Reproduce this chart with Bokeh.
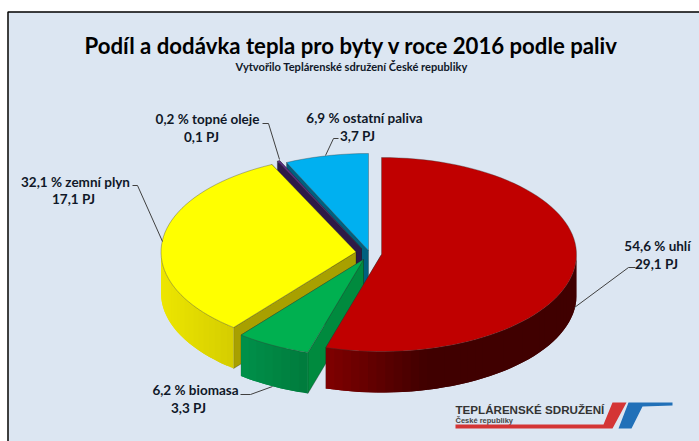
import math
from bokeh.plotting import figure
from bokeh.models import Range1d
from bokeh.core.properties import value
from bokeh.embed import file_html
from bokeh.resources import INLINE

# --- data ---
names = ["uhlí", "biomasa", "zemní plyn", "topné oleje", "ostatní paliva"]
shares = [54.6, 6.2, 32.1, 0.2, 6.9]
pj = [29.1, 3.3, 17.1, 0.1, 3.7]
title = "Podíl a dodávka tepla pro byty v roce 2016 podle paliv"
subtitle = "Vytvořilo Teplárenské sdružení České republiky"

# --- style / layout ---
top_colors = ["#C00000", "#00B050", "#FFFF00", "#5B2C83", "#00B0F0"]
wall_colors = ["#7A0000", "#008A3E", "#A8A000", "#2E1A47", "#00607F"]
side_left = ["#800000", "#00914A", "#EDE600", "#2E1A47", "#00607F"]
side_right = ["#400000", "#007A3C", "#C8C000", "#2E1A47", "#00607F"]
apex = [(381, 254), (363, 259), (355.5, 251.5), (361, 248), (368, 250)]
RX, RY, DEPTH = 195, 97, 41
label_pos = [(657, 245, 656, 263), (195, 389, 188, 407), (75, 181, 73, 198),
             (207, 118, 201, 136), (364, 117, 357, 135)]
leaders = [[(574, 307), (628, 267), (635, 267)],
           [(240, 394), (250, 394), (272, 386)],
           [(132, 185), (137, 185), (162, 241)],
           [(262, 123), (268, 123), (279, 159)],
           [(325, 155), (333, 138), (338, 138)]]
BG = "#DCE6F2"
FONT = value("Lato")


def mix(c1, c2, f):
    a = [int(c1[i:i + 2], 16) for i in (1, 3, 5)]
    b = [int(c2[i:i + 2], 16) for i in (1, 3, 5)]
    return "#%02X%02X%02X" % tuple(round(x + (y - x) * f) for x, y in zip(a, b))


def pt(c, t):
    r = math.radians(t)
    return c[0] + RX * math.sin(r), c[1] - RY * math.cos(r)


p = figure(width=699, height=441, output_backend="svg", toolbar_location=None,
           x_range=Range1d(0, 699), y_range=Range1d(441, 0), min_border=0,
           outline_line_color=None, background_fill_color="white", border_fill_color="white")
p.axis.visible = False
p.grid.visible = False

# chart area with its black border on the top and left
p.quad(left=[8], right=[699], top=[11.5], bottom=[441], fill_color=BG, line_color=None)
p.line([7.5, 7.5, 699], [441, 11.5, 11.5], line_color="black", line_width=1.5)

# wedge angles from the shares
edges = [0.0]
for s in shares:
    edges.append(edges[-1] + s / sum(shares) * 360)

# painter order: back wedges first, coal last
for i in [4, 3, 2, 1, 0]:
    c = apex[i]
    t0, t1 = edges[i], edges[i + 1]
    steps = max(2, int((t1 - t0) / 2.5))
    ts = [t0 + (t1 - t0) * k / steps for k in range(steps + 1)]

    # cut walls
    for t in (t1, t0):
        o = pt(c, t)
        if o[0] < c[0] - 0.5:
            xs = [c[0], o[0], o[0], c[0]]
            ys = [c[1], o[1], o[1] + DEPTH, c[1] + DEPTH]
            p.patch(xs, ys, fill_color=wall_colors[i], line_color="#1A1A1A", line_width=0.5, line_alpha=0.6)

    # outer rim split into strips for the gradient, each strip overlapping its neighbour
    lo = min(pt(c, t)[0] for t in ts)
    hi = max(pt(c, t)[0] for t in ts)
    for a, b in zip(ts[:-1], ts[1:]):
        if math.cos(math.radians((a + b) / 2)) > 0:
            continue
        pa, pb = pt(c, a), pt(c, b)
        pn = pt(c, min(b + (b - a), t1))
        f = ((pa[0] + pb[0]) / 2 - lo) / max(1, hi - lo)
        col = mix(side_left[i], side_right[i], min(1, f * 2.5) if i == 0 else f)
        p.patch([pa[0], pb[0], pn[0], pn[0], pb[0], pa[0]],
                [pa[1], pb[1], pn[1], pn[1] + DEPTH, pb[1] + DEPTH, pa[1] + DEPTH],
                fill_color=col, line_color=None)

    # top face
    xs = [c[0]] + [pt(c, t)[0] for t in ts]
    ys = [c[1]] + [pt(c, t)[1] for t in ts]
    p.patch(xs, ys, fill_color=top_colors[i], line_color="#3A3A3A", line_width=0.6, line_alpha=0.6)

# leader lines
for pts in leaders:
    p.line([q[0] for q in pts], [q[1] for q in pts], line_color="#404040", line_width=1)

# data labels
for n, s, v, lp in zip(names, shares, pj, label_pos):
    for txt, x, y in ((f"{s:.1f}".replace(".", ",") + f" % {n}", lp[0], lp[1]),
                      (f"{v:.1f}".replace(".", ",") + " PJ", lp[2], lp[3])):
        p.text([x], [y], text=[txt], text_font=FONT, text_font_style="bold", text_font_size="13.5px",
               text_align="center", text_baseline="middle", text_color="#101828")

p.text([351], [45], text=[title], text_font=FONT, text_font_style="bold", text_font_size="22.2px",
       text_align="center", text_baseline="middle", text_color="black")
p.text([351], [66], text=[subtitle], text_font=FONT, text_font_style="bold", text_font_size="11.1px",
       text_align="center", text_baseline="middle", text_color="#101828")

# logo
p.text([455], [409], text=["TEPLÁRENSKÉ  SDRUŽENÍ"], text_font=value("Liberation Sans"), text_font_style="bold",
       text_font_size="11.6px", text_align="left", text_baseline="middle", text_color="#333333")
p.text([455], [420], text=["České republiky"], text_font=value("Liberation Sans"), text_font_style="bold",
       text_font_size="7.5px", text_align="left", text_baseline="middle", text_color="#444444")
p.patch([455, 603, 612, 626, 612, 455], [424, 424, 402, 402, 428, 428], fill_color="#D43535", line_color=None)
p.patch([628, 672, 672, 642, 631, 618], [402, 402, 405, 406, 428, 428],
        fill_color="#2170B8", line_color=None)

open("out.html", "w").write(file_html(p, INLINE))
